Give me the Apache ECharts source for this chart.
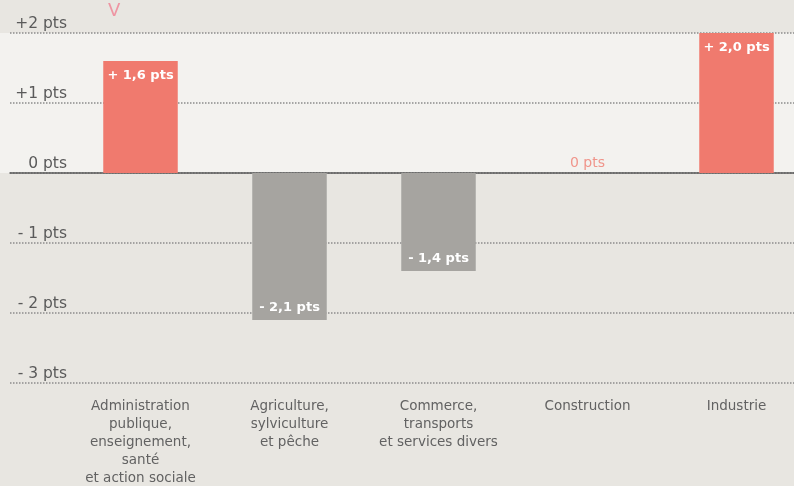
<!DOCTYPE html>
<html>
<head>
<meta charset="utf-8">
<script src="https://cdn.jsdelivr.net/npm/echarts@6/dist/echarts.min.js"></script>
<style>
html,body{margin:0;padding:0;background:#e8e6e1;}
#c{width:794px;height:486px;}
</style>
</head>
<body>
<div id="c"></div>
<script>
var categories = [
  "Administration\npublique,\nenseignement,\nsanté\net action sociale",
  "Agriculture,\nsylviculture\net pêche",
  "Commerce,\ntransports\net services divers",
  "Construction",
  "Industrie"
];
var values = [1.6, -2.1, -1.4, 0, 2.0];
var yTicks = {"2": "+2 pts", "1": "+1 pts", "0": "0 pts", "-1": "- 1 pts", "-2": "- 2 pts", "-3": "- 3 pts"};

var POS = '#f07a6e', NEG = '#a6a4a0', ZERO_LABEL = '#f0958b';

function fmt(v) {
  if (v === 0) return '0 pts';
  var s = Math.abs(v).toFixed(1).replace('.', ',');
  return (v > 0 ? '+ ' : '- ') + s + ' pts';
}

var barData = values.map(function (v) {
  var item = { value: v, itemStyle: { color: v >= 0 ? POS : NEG } };
  if (v > 0) item.label = { position: 'insideTop', distance: 8, color: '#fff' };
  else if (v < 0) item.label = { position: 'insideBottom', distance: 6, color: '#fff' };
  else item.label = { position: 'top', distance: 3, color: ZERO_LABEL, fontWeight: 'normal', fontSize: 14 };
  return item;
});

var chart = echarts.init(document.getElementById('c'));
chart.setOption({
  backgroundColor: '#e8e6e1',
  animation: false,
  grid: [
    { left: 0, right: 0, top: 33, height: 140, show: true, backgroundColor: '#f3f2ef', borderWidth: 0, outerBoundsMode: 'none' },
    { left: 10, right: 0, top: 33, bottom: 103, outerBoundsMode: 'none' },
    { left: 66, width: 745, top: 33, bottom: 103, outerBoundsMode: 'none' }
  ],
  xAxis: [
    { gridIndex: 0, type: 'value', show: false },
    { gridIndex: 1, type: 'value', min: 0, max: 1,
      axisLine: { show: true, onZero: true, lineStyle: { color: '#5a5a5a', width: 1.5 } },
      axisTick: { show: false }, axisLabel: { show: false }, splitLine: { show: false } },
    { gridIndex: 2, type: 'category', data: categories,
      axisLine: { show: false }, axisTick: { show: false }, splitLine: { show: false },
      axisLabel: { interval: 0, margin: 14, color: '#626262', fontFamily: 'DejaVu Sans', fontSize: 13.5, lineHeight: 18, verticalAlign: 'top' } }
  ],
  yAxis: [
    { gridIndex: 0, type: 'value', show: false },
    { gridIndex: 1, type: 'value', min: -3, max: 2, interval: 1,
      axisLine: { show: false }, axisTick: { show: false },
      splitLine: { show: true, lineStyle: { color: '#8c8c8c', type: [1.5, 1.5], width: 1.5 } },
      axisLabel: { inside: true, margin: 57, align: 'right', verticalAlign: 'bottom', padding: [0, 0, 1, 0],
        color: '#5a5a5a', fontFamily: 'DejaVu Sans', fontSize: 15.5,
        formatter: function (v) { return yTicks[String(v)]; } } },
    { gridIndex: 2, type: 'value', min: -3, max: 2, interval: 1, show: false, splitLine: { show: false } }
  ],
  series: [
    { type: 'bar', xAxisIndex: 2, yAxisIndex: 2, data: barData, barWidth: '50%',
      label: { show: true, fontFamily: 'DejaVu Sans', fontSize: 13, fontWeight: 'bold', formatter: function (p) { return fmt(p.value); } } }
  ],
  graphic: [
    { type: 'text', left: 108, top: 2, style: { text: 'V', fill: '#f07a8e', font: '18px "DejaVu Sans"', opacity: 0.75 } }
  ]
});
</script>
</body>
</html>
